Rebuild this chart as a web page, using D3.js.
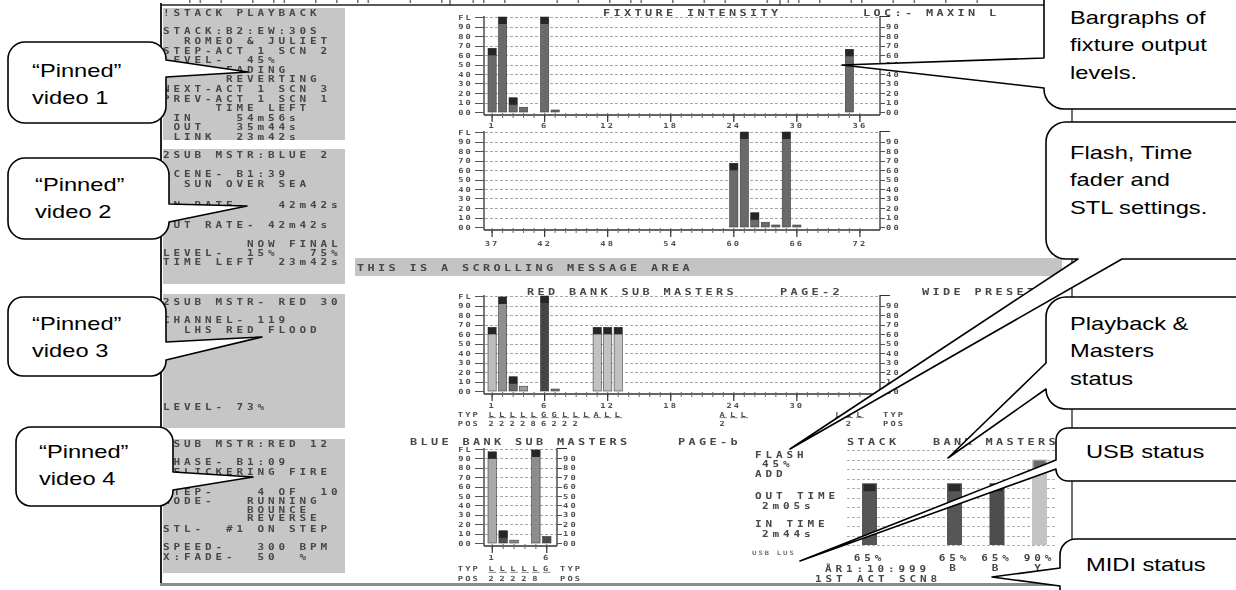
<!DOCTYPE html>
<html>
<head>
<meta charset="utf-8">
<title>Console screen</title>
<script src="https://cdn.jsdelivr.net/npm/d3@7"></script>
<style>
  body { margin: 0; background: #fff; }
  svg { display: block; }
  .con { font-family: "DejaVu Sans Mono", monospace; font-weight: bold; white-space: pre; }
  .note { font-family: "Liberation Sans", Arial, sans-serif; fill: #000; }
</style>
</head>
<body>
<script>
var W = 1236, H = 590;

// Data =======================================================
var yTickVals = [100, 90, 80, 70, 60, 50, 40, 30, 20, 10, 0];
var yTickLabs = ['FL', '90', '80', '70', '60', '50', '40', '30', '20', '10', '00'];

// fixture intensity, channels 1-36
var fixtChA   = d3.range(1, 37);
var fixtLvlA  = [67,100,15,5,0,100,1,0,0,0, 0,0,0,0,0,0,0,0,0,0, 0,0,0,0,0,0,0,0,0,0, 0,0,0,0,66,0];
var fixtTickA = [1, 6, 12, 18, 24, 30, 36];

// fixture intensity, channels 37-72
var fixtChB   = d3.range(37, 73);
var fixtLvlB  = [0,0,0,0,0,0,0,0,0,0, 0,0,0,0,0,0,0,0,0,0, 0,0,0,67,100,15,5,1,100,1, 0,0,0,0,0,0];
var fixtTickB = [37, 42, 48, 54, 60, 66, 72];

// red bank sub masters
var redCh    = d3.range(1, 37);
var redLvl   = [67,99,15,5,0,100,1,0,0,0, 67,67,67,0,0,0,0,0,0,0, 0,0,0,0,0,0,0,0,0,0, 0,0,0,0,0,0];
var redTicks = [1, 6, 12, 18, 24, 30];
var redTyp   = ['L','L','L','L','L','G','G','L','L','L','A','L','L','','','','','','','','','','A','L','L','','','','','','','','','L','L','L'];
var redPos   = ['2','2','2','2','8','6','2','2','2','','','','','','','','','','','','','','2','','','','','','','','','','','','2',''];

// blue bank sub masters
var blueCh    = [1, 2, 3, 4, 5, 6];
var blueLvl   = [97, 13, 3, 0, 99, 7];
var blueTicks = [1, 6];
var blueTyp   = ['L','L','L','L','L','G'];
var bluePos   = ['2','2','2','2','8',''];

// stack + bank masters
var masterTag = ['STACK', 'B', 'B', 'Y'];
var masterLvl = [65, 65, 65, 90];

// bar shades (style only)
var redShade  = {1:'#bdbdbd', 2:'#8f8f8f', 3:'#686868', 4:'#9c9c9c', 6:'#454545', 7:'#777', 11:'#c2c2c2', 12:'#c2c2c2', 13:'#c2c2c2'};
var blueShade = {1:'#a9a9a9', 2:'#505050', 3:'#8a8a8a', 5:'#8d8d8d', 6:'#4c4c4c'};
var masterShade = ['#575757', '#575757', '#4e4e4e', '#c4c4c4'];

// left "pinned" panels
var panelBoxes = [[8, 140], [149, 284], [294, 428], [439, 573]];
var panelText = [
  [[13,'!STACK PLAYBACK'],[31,'STACK:B2:EW:30S'],[41,'  ROMEO & JULIET'],[51,'STEP-ACT 1 SCN 2'],
   [60,'LEVEL-  45%'],[70,'      FADING'],[79,'      REVERTING'],[89,'NEXT-ACT 1 SCN 3'],
   [99,'PREV-ACT 1 SCN 1'],[108,'     TIME LEFT'],[118,' IN    54m56s'],[127,' OUT   35m44s'],[137,' LINK  23m42s']],
  [[155,'2SUB MSTR:BLUE 2'],[174,'SCENE- B1:39'],[184,'  SUN OVER SEA'],[205,'IN RATE-   42m42s'],
   [225,' OUT RATE- 42m42s', -2],[244,'        NOW FINAL'],[253,'LEVEL-  15%   75%'],[262,'TIME LEFT  23m42s']],
  [[302,'2SUB MSTR- RED 30'],[320,'CHANNEL- 119'],[330,'  LHS RED FLOOD'],[407,'LEVEL- 73%']],
  [[444,'2SUB MSTR:RED 12'],[462,'PHASE- B1:09'],[472,' FLICKERING FIRE'],[492,'STEP-    4 OF  10'],
   [501,'MODE-   RUNNING'],[510,'        BOUNCE'],[518,'        REVERSE'],[529,'STL-  #1 ON STEP'],
   [547,'SPEED-   300 BPM'],[557,'X:FADE-  50  %']]
];
// row of the screen above, cropped off by the photo
var croppedRow = '  ll l  l ll  l l ll   l  l  ll l    l l  l ll  l  l l   l ll l  ll  l l  l  l';
// =============================================================

var svg = d3.select('body').append('svg').attr('width', W).attr('height', H);
var defs = svg.append('defs');
defs.append('filter').attr('id', 'soft')
    .append('feGaussianBlur').attr('stdDeviation', 0.35);
defs.append('clipPath').attr('id', 'panelClip')
    .selectAll('rect').data(panelBoxes).enter().append('rect')
    .attr('x', 163).attr('width', 182)
    .attr('y', d => d[0]).attr('height', d => d[1] - d[0]);

var screen = svg.append('g').attr('filter', 'url(#soft)');

// console style text: monospace, stretched sideways
function ctext(g, x, y, s, o) {
  o = o || {};
  var fs = o.fs || 9.5, sx = o.sx || 1.25, pitch = o.pitch || 10.5;
  var ls = pitch / sx - 0.602 * fs;
  return g.append('text')
    .attr('class', 'con')
    .attr('transform', 'translate(' + x + ',' + y + ') scale(' + sx + ',1)')
    .attr('font-size', fs)
    .attr('letter-spacing', ls.toFixed(2))
    .attr('text-anchor', o.anchor || 'start')
    .attr('fill', o.fill || '#474747')
    .text(s);
}
function small(g, x, y, s, anchor) {
  return ctext(g, x, y, s, {fs: 7, sx: 1.25, pitch: 7.4, anchor: anchor || 'start', fill: '#505050'});
}
var tight = {fs: 8.8};

// Frame ======================================================
screen.append('line').attr('x1', 161).attr('x2', 161).attr('y1', 3).attr('y2', 586)
      .attr('stroke', '#222').attr('stroke-width', 2);
screen.append('line').attr('x1', 160).attr('x2', 1045).attr('y1', 5).attr('y2', 5)
      .attr('stroke', '#222').attr('stroke-width', 1.6);
screen.append('line').attr('x1', 160).attr('x2', 1072).attr('y1', 584.5).attr('y2', 584.5)
      .attr('stroke', '#8c8c8c').attr('stroke-width', 3);
screen.append('line').attr('x1', 1072).attr('x2', 1072).attr('y1', 0).attr('y2', 586)
      .attr('stroke', '#333').attr('stroke-width', 1.4);
screen.selectAll('.crop').data(croppedRow.split('').map((c, i) => ({c: c, i: i})).filter(d => d.c !== ' '))
  .enter().append('rect').attr('class', 'crop')
  .attr('x', d => 168 + d.i * 10.5).attr('y', 0).attr('width', 1.6).attr('height', 3)
  .attr('fill', '#777');
screen.append('line').attr('x1', 450).attr('x2', 450).attr('y1', 0).attr('y2', 5).attr('stroke', '#222');
screen.append('line').attr('x1', 780).attr('x2', 780).attr('y1', 0).attr('y2', 5).attr('stroke', '#222');

// Pinned panels ==============================================
screen.selectAll('.panel').data(panelBoxes).enter().append('rect')
  .attr('class', 'panel')
  .attr('x', 163).attr('width', 182)
  .attr('y', d => d[0]).attr('height', d => d[1] - d[0])
  .attr('fill', '#c6c6c6');
var ptext = screen.append('g').attr('clip-path', 'url(#panelClip)');
panelText.forEach(function(lines) {
  lines.forEach(function(l) {
    ctext(ptext, 163 + (l[2] || 0) * 5.25, l[0] + 3.2, l[1], tight);
  });
});

// Message bar ================================================
screen.append('rect').attr('x', 355).attr('y', 258).attr('width', 707).attr('height', 18).attr('fill', '#c4c4c4');
ctext(screen, 357, 270.5, 'THIS IS A SCROLLING MESSAGE AREA');

// Bargraphs ==================================================
function bargraph(o) {
  var g = screen.append('g');
  var x = d3.scaleBand().domain(o.ch).range(o.xr).paddingInner(0.22);
  var y = d3.scaleLinear().domain([0, 100]).range(o.yr);
  var base = y(0), top = y(100);
  var cx = d => x(d) + x.bandwidth() / 2;

  // dotted level lines
  g.selectAll(null).data(yTickVals.slice(0, 10)).enter().append('line')
    .attr('x1', o.left + 1).attr('x2', o.right - 1)
    .attr('y1', d => Math.round(y(d)) + 0.5).attr('y2', d => Math.round(y(d)) + 0.5)
    .attr('stroke', '#a6a6a6').attr('stroke-dasharray', '3,2');

  // left scale
  g.append('line').attr('x1', o.left).attr('x2', o.left).attr('y1', top - 1).attr('y2', base + 3)
    .attr('stroke', '#333').attr('stroke-width', 1.3);
  g.selectAll(null).data(yTickVals).enter().append('line')
    .attr('x1', o.left - 9).attr('x2', o.left)
    .attr('y1', d => Math.round(y(d)) + 0.5).attr('y2', d => Math.round(y(d)) + 0.5)
    .attr('stroke', '#555');
  yTickVals.forEach(function(v, i) { small(g, o.left - 11, y(v) + 2.5, yTickLabs[i], 'end'); });

  // right scale
  g.append('line').attr('x1', o.right).attr('x2', o.right).attr('y1', top - 1).attr('y2', base + 3)
    .attr('stroke', '#333').attr('stroke-width', 1.3);
  g.append('line').attr('x1', o.right).attr('x2', o.right + 10).attr('y1', top - 0.5).attr('y2', top - 0.5)
    .attr('stroke', '#333');
  g.selectAll(null).data(yTickVals.slice(1)).enter().append('line')
    .attr('x1', o.right).attr('x2', o.right + 5)
    .attr('y1', d => Math.round(y(d)) + 0.5).attr('y2', d => Math.round(y(d)) + 0.5)
    .attr('stroke', '#555');
  yTickVals.slice(1).forEach(function(v, i) { small(g, o.right + 6, y(v) + 2.5, yTickLabs[i + 1]); });

  // channel axis
  g.append('line').attr('x1', o.left).attr('x2', o.right).attr('y1', base + 3).attr('y2', base + 3)
    .attr('stroke', '#333').attr('stroke-width', 1.3);
  g.selectAll(null).data(o.ch).enter().append('line')
    .attr('x1', cx).attr('x2', cx).attr('y1', base + 1).attr('y2', base + 6)
    .attr('stroke', '#666');
  g.selectAll(null).data(o.ticks).enter().append('line')
    .attr('x1', cx).attr('x2', cx).attr('y1', base + 3).attr('y2', base + 10)
    .attr('stroke', '#333').attr('stroke-width', 1.2);
  o.ticks.forEach(function(t) { small(g, cx(t), o.labelY, String(t), 'middle'); });

  // bars
  var rows = o.ch.map((c, i) => ({c: c, v: o.lvl[i]})).filter(d => d.v > 0);
  g.selectAll(null).data(rows).enter().append('rect')
    .attr('x', d => x(d.c)).attr('width', x.bandwidth())
    .attr('y', d => Math.min(y(d.v), base - 2)).attr('height', d => Math.max(2, base - y(d.v)))
    .attr('fill', d => o.shade(d.c)).attr('stroke', '#3c3c3c').attr('stroke-width', 0.6);
  g.selectAll(null).data(rows.filter(d => d.v >= 10)).enter().append('rect')
    .attr('x', d => x(d.c)).attr('width', x.bandwidth())
    .attr('y', d => y(d.v)).attr('height', 7)
    .attr('fill', '#262626');

  // type / position rows
  if (o.typ) {
    small(g, o.left - 4, o.typY, 'TYP', 'end');
    small(g, o.left - 4, o.typY + 9.5, 'POS', 'end');
    small(g, o.right + 3, o.typY, 'TYP');
    small(g, o.right + 3, o.typY + 9.5, 'POS');
    o.ch.forEach(function(c, i) {
      if (o.typ[i]) small(g, cx(c), o.typY, o.typ[i], 'middle').attr('text-decoration', 'underline');
      if (o.pos[i]) small(g, cx(c), o.typY + 9.5, o.pos[i], 'middle');
    });
  }
  return g;
}

bargraph({ch: fixtChA, lvl: fixtLvlA, ticks: fixtTickA, xr: [488, 864], yr: [112, 17],
          left: 484, right: 880, labelY: 128, shade: () => '#6b6b6b'});
bargraph({ch: fixtChB, lvl: fixtLvlB, ticks: fixtTickB, xr: [488, 864], yr: [227, 132],
          left: 484, right: 880, labelY: 246, shade: () => '#6b6b6b'});
bargraph({ch: redCh, lvl: redLvl, ticks: redTicks, xr: [488, 864], yr: [391, 296],
          left: 484, right: 880, labelY: 408, shade: c => redShade[c] || '#888',
          typ: redTyp, pos: redPos, typY: 416.5});
bargraph({ch: blueCh, lvl: blueLvl, ticks: blueTicks, xr: [488, 551], yr: [543, 449],
          left: 484, right: 557, labelY: 560, shade: c => blueShade[c] || '#888',
          typ: blueTyp, pos: bluePos, typY: 571});

// titles
ctext(screen, 603, 16, 'FIXTURE INTENSITY');
ctext(screen, 863, 16, 'LOC:- MAXIN L');
ctext(screen, 527, 294.5, 'RED BANK SUB MASTERS');
ctext(screen, 780, 294.5, 'PAGE-2');
ctext(screen, 922, 294.5, 'WIDE PRESET');
ctext(screen, 410, 444.5, 'BLUE BANK SUB MASTERS');
ctext(screen, 678, 444.5, 'PAGE-b');

// Flash / times / masters ====================================
ctext(screen, 755, 457.5, 'FLASH', tight);
ctext(screen, 762, 466.5, '45%', tight);
ctext(screen, 755, 476.5, 'ADD', tight);
ctext(screen, 755, 498.5, 'OUT TIME', tight);
ctext(screen, 762, 508.5, '2m05s', tight);
ctext(screen, 755, 526.5, 'IN TIME', tight);
ctext(screen, 762, 536.5, '2m44s', tight);
ctext(screen, 752, 555, 'USB LUS', {fs: 6, pitch: 6.2, fill: '#777'});
ctext(screen, 847, 444.5, 'STACK');
ctext(screen, 933, 444.5, 'BANK MASTERS');

var my = d3.scaleLinear().domain([0, 100]).range([545, 450]);
var mx = d3.scaleLinear().domain([0, 4]).range([869.5, 1039.5]);
var slot = (d, i) => (i === 0 ? 0 : i + 1);
screen.selectAll(null).data(yTickVals.slice(0, 11)).enter().append('line')
  .attr('x1', 847).attr('x2', 1057)
  .attr('y1', d => Math.round(my(d)) + 0.5).attr('y2', d => Math.round(my(d)) + 0.5)
  .attr('stroke', '#b0b0b0').attr('stroke-dasharray', '3,2');
screen.selectAll(null).data(masterLvl).enter().append('rect')
  .attr('x', (d, i) => mx(slot(d, i)) - 7.5).attr('width', 15)
  .attr('y', d => my(d)).attr('height', d => my(0) - my(d))
  .attr('fill', (d, i) => masterShade[i]);
screen.selectAll(null).data(masterLvl).enter().append('rect')
  .attr('x', (d, i) => mx(slot(d, i)) - 6).attr('width', 12)
  .attr('y', d => my(d) + 1).attr('height', 7)
  .attr('fill', (d, i) => i === 3 ? '#6a6a6a' : '#2a2a2a');
masterLvl.forEach(function(v, i) {
  ctext(screen, mx(slot(v, i)), 560.5, v + '%', {fs: 8.8, anchor: 'middle'});
  if (i > 0) ctext(screen, mx(slot(v, i)), 571, masterTag[i], {fs: 8.8, anchor: 'middle'});
});
ctext(screen, 825, 571.5, 'ÂR1:10:999', tight);
ctext(screen, 815, 581.5, '1ST ACT SCN8', tight);

// Callouts ===================================================
var notes = [
  {x0: 8,    y0: 42,  x1: 166,  y1: 123, r: 17, side: 'right',  a: 60,   b: 77,   tx: 248, ty: 72,  tx0: 32,   ty0: 76.5,  lines: ['“Pinned”', 'video 1']},
  {x0: 8,    y0: 158, x1: 169,  y1: 239, r: 17, side: 'right',  a: 204,  b: 222,  tx: 247, ty: 206, tx0: 35,   ty0: 190.5, lines: ['“Pinned”', 'video 2']},
  {x0: 8,    y0: 297, x1: 166,  y1: 376, r: 15, side: 'right',  a: 342,  b: 360,  tx: 262, ty: 337, tx0: 32,   ty0: 329.5, lines: ['“Pinned”', 'video 3']},
  {x0: 16,   y0: 427, x1: 173,  y1: 506, r: 15, side: 'right',  a: 472,  b: 490,  tx: 253, ty: 477, tx0: 39,   ty0: 457.5, lines: ['“Pinned”', 'video 4']},
  {x0: 1044, y0: -25, x1: 1262, y1: 109, r: 20, side: 'left',   a: 58,   b: 88,   tx: 842, ty: 65,  tx0: 1070, ty0: 23.5,  lines: ['Bargraphs of', 'fixture output', 'levels.']},
  {x0: 1046, y0: 122, x1: 1262, y1: 259, r: 20, side: 'bottom', a: 1078, b: 1122, tx: 790, ty: 449, tx0: 1070, ty0: 158.5, lines: ['Flash, Time', 'fader and', 'STL settings.']},
  {x0: 1046, y0: 297, x1: 1262, y1: 409, r: 20, side: 'left',   a: 363,  b: 389,  tx: 948, ty: 458, tx0: 1070, ty0: 329.5, lines: ['Playback &', 'Masters', 'status']},
  {x0: 1056, y0: 428, x1: 1262, y1: 481, r: 12, side: 'left',   a: 460,  b: 469,  tx: 800, ty: 561, tx0: 1086, ty0: 457.5, lines: ['USB status']},
  {x0: 1060, y0: 539, x1: 1262, y1: 615, r: 16, side: 'left',   a: 568,  b: 586,  tx: 992, ty: 577, tx0: 1086, ty0: 570.5, lines: ['MIDI status']}
];

function bubble(b) {
  var p = d3.path(), r = b.r;
  p.moveTo(b.x0 + r, b.y0);
  p.arcTo(b.x1, b.y0, b.x1, b.y0 + r, r);
  if (b.side === 'right') { p.lineTo(b.x1, b.a); p.lineTo(b.tx, b.ty); p.lineTo(b.x1, b.b); }
  p.arcTo(b.x1, b.y1, b.x1 - r, b.y1, r);
  if (b.side === 'bottom') { p.lineTo(b.b, b.y1); p.lineTo(b.tx, b.ty); p.lineTo(b.a, b.y1); }
  p.arcTo(b.x0, b.y1, b.x0, b.y1 - r, r);
  if (b.side === 'left') { p.lineTo(b.x0, b.b); p.lineTo(b.tx, b.ty); p.lineTo(b.x0, b.a); }
  p.arcTo(b.x0, b.y0, b.x0 + r, b.y0, r);
  p.closePath();
  return p.toString();
}

var callouts = svg.append('g');
callouts.selectAll('path').data(notes).enter().append('path')
  .attr('d', bubble)
  .attr('fill', '#fff').attr('stroke', '#000').attr('stroke-width', 1.6)
  .attr('stroke-linejoin', 'round');
notes.forEach(function(n) {
  n.lines.forEach(function(t, i) {
    callouts.append('text').attr('class', 'note')
      .attr('transform', 'translate(' + n.tx0 + ',' + (n.ty0 + i * 27.5) + ') scale(1.28,1)')
      .attr('font-size', 18.5)
      .text(t);
  });
});
</script>
</body>
</html>
